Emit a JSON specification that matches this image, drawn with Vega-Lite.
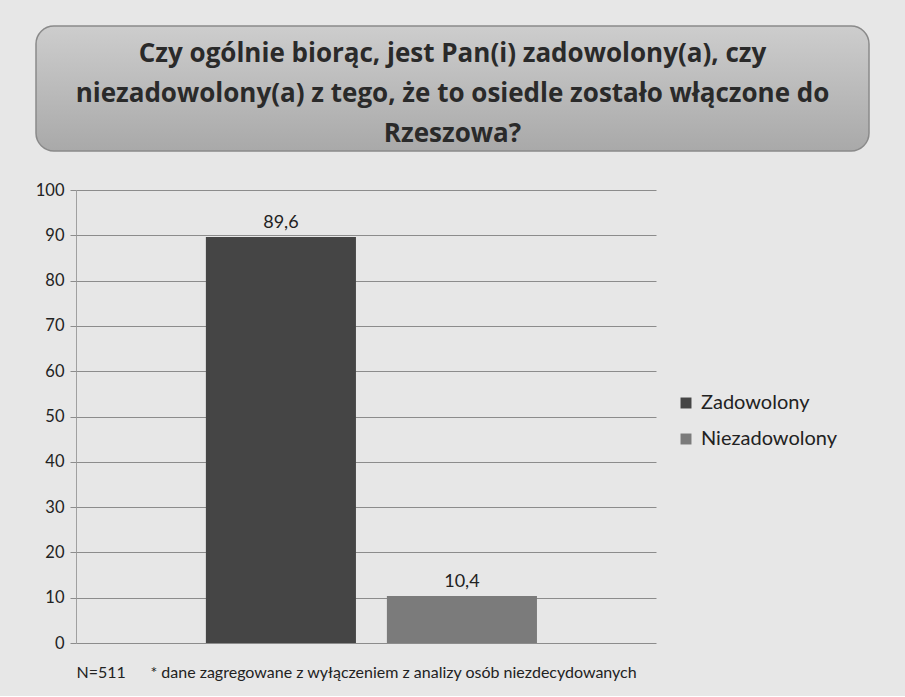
{
  "$schema": "https://vega.github.io/schema/vega-lite/v6.json",
  "background": "#e7e7e7",
  "padding": {"top": 25, "left": 35, "right": 37, "bottom": 16},
  "config": {
    "locale": {"number": {"decimal": ",", "thousands": " ", "grouping": [3], "currency": ["", " zł"]}},
    "font": "Lato"
  },
  "spacing": 30,
  "vconcat": [
    {
      "width": 833,
      "height": 125,
      "view": {
        "fill": {"x1": 0, "y1": 0, "x2": 0, "y2": 1, "gradient": "linear", "stops": [{"offset": 0, "color": "#cdcdcd"}, {"offset": 1, "color": "#a9a9a9"}]},
        "stroke": "#8a8a8a",
        "strokeWidth": 1.5,
        "cornerRadius": 18
      },
      "data": {"values": [{"pytanie": ["Czy ogólnie biorąc, jest Pan(i) zadowolony(a), czy", "niezadowolony(a) z tego, że to osiedle zostało włączone do", "Rzeszowa?"]}]},
      "mark": {"type": "text", "font": "Open Sans", "fontWeight": "bold", "fontSize": 26, "color": "#2a2a2a", "lineHeight": 40, "align": "center", "baseline": "middle", "dy": -35},
      "encoding": {"text": {"field": "pytanie"}}
    },
    {
      "width": 620,
      "height": 453,
      "view": {"stroke": null},
      "data": {"values": [
        {"kategoria": "Zadowolony", "procent": 89.6},
        {"kategoria": "Niezadowolony", "procent": 10.4}
      ]},
      "encoding": {
        "x": {
          "field": "kategoria", "type": "nominal", "sort": ["Zadowolony", "Niezadowolony"],
          "scale": {"paddingInner": 0.171, "paddingOuter": 0.798, "align": 0.588},
          "axis": {
            "labels": false, "ticks": false, "domain": false,
            "title": "N=511\u00a0\u00a0\u00a0\u00a0\u00a0\u00a0* dane zagregowane z wyłączeniem z analizy osób niezdecydowanych",
            "titleAnchor": "start", "titleAlign": "left", "titleBaseline": "top", "titleX": 40, "titleY": 21,
            "titleFont": "Lato", "titleFontSize": 16, "titleFontWeight": "normal", "titleColor": "#222"
          }
        }
      },
      "layer": [
        {
          "mark": {"type": "bar"},
          "encoding": {
            "y": {
              "field": "procent", "type": "quantitative",
              "scale": {"domain": [0, 100]},
              "axis": {
                "orient": "left", "offset": -40, "grid": false,
                "values": [0, 10, 20, 30, 40, 50, 60, 70, 80, 90, 100],
                "title": null, "labelFontSize": 16.5, "labelColor": "#222", "labelPadding": 6,
                "tickSize": 6, "tickColor": "#8c8c8c", "domainColor": "#a0a0a0"
              }
            },
            "color": {
              "field": "kategoria", "type": "nominal", "sort": ["Zadowolony", "Niezadowolony"],
              "scale": {"domain": ["Zadowolony", "Niezadowolony"], "range": ["#454545", "#7b7b7b"]},
              "legend": {
                "title": null, "orient": "none", "legendX": 640, "legendY": 367,
                "symbolType": "square", "symbolSize": 120, "symbolStrokeWidth": 0,
                "labelFontSize": 20, "labelColor": "#222", "rowPadding": 16, "labelOffset": 5
              }
            }
          }
        },
        {
          "mark": {"type": "text", "baseline": "bottom", "dy": -5, "fontSize": 18, "color": "#222"},
          "encoding": {
            "y": {
              "field": "procent", "type": "quantitative",
              "axis": {
                "orient": "right", "grid": false, "labels": false, "domain": false, "title": null,
                "values": [0, 10, 20, 30, 40, 50, 60, 70, 80, 90, 100],
                "tickSize": -580, "tickColor": "#8c8c8c", "tickWidth": 1
              }
            },
            "text": {"field": "procent", "type": "quantitative", "format": ".1f"}
          }
        }
      ],
      "resolve": {"axis": {"y": "independent"}}
    }
  ]
}
